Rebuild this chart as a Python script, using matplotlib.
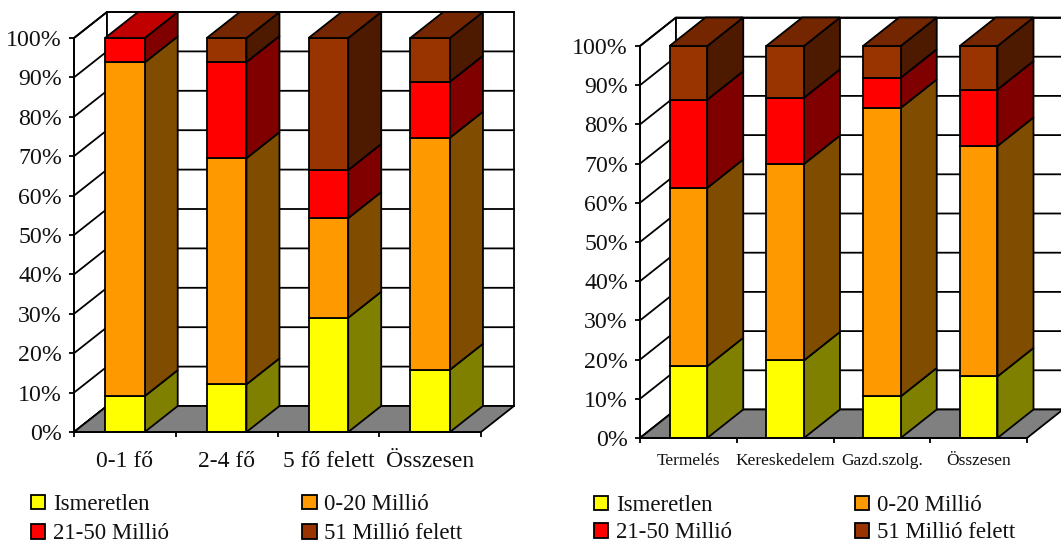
import numpy as np
import matplotlib
matplotlib.use('Agg')
from matplotlib import pyplot as plt
from matplotlib.patches import Polygon, Patch

plt.rcParams['font.family'] = ['Liberation Serif', 'DejaVu Serif']

series_names = ['Ismeretlen', '0-20 Millió', '21-50 Millió', '51 Millió felett']
y_ticks = [0, 10, 20, 30, 40, 50, 60, 70, 80, 90, 100]

size_labels = ['0-1 fő', '2-4 fő', '5 fő felett', 'Összesen']
size_unknown = [9.1, 12.1, 29.0, 15.8]
size_0_20 = [84.7, 57.4, 25.3, 58.9]
size_21_50 = [6.2, 24.4, 12.2, 14.2]
size_51_up = [0.0, 6.1, 33.5, 11.1]

sector_labels = ['Termelés', 'Kereskedelem', 'Gazd.szolg.', 'Összesen']
sector_unknown = [18.3, 19.8, 10.6, 15.7]
sector_0_20 = [45.5, 50.1, 73.6, 58.8]
sector_21_50 = [22.5, 16.9, 7.7, 14.4]
sector_51_up = [13.7, 13.2, 8.1, 11.1]

front = ['#FFFF00', '#FF9900', '#FF0000', '#993300']
side = ['#808000', '#7F4C00', '#800000', '#4D1A00']
top = ['#BFBF00', '#BF7300', '#C00000', '#732600']

W, H = 1061, 544
LW = 1.3


def face(ax, pts, color, z):
    ax.add_patch(Polygon(pts, closed=True, facecolor=color, edgecolor='black',
                         linewidth=LW, joinstyle='miter', zorder=z, clip_on=False))


def chart(box, labels, columns, depth_px, bar_width, label_size, legend_pos, col_space, row_space):
    x0, y0, x1, y1 = box
    ax = fig.add_axes([x0 / W, 1 - y0 / H, (x1 - x0) / W, (y0 - y1) / H])
    ax.set_xlim(0, 4)
    ax.set_ylim(0, 100)
    ax.patch.set_alpha(0)
    # depth of the oblique projection, in data units
    dx = depth_px[0] / ((x1 - x0) / 4)
    dy = depth_px[1] / ((y0 - y1) / 100)

    # walls and floor
    face(ax, [(0, 0), (dx, dy), (dx, 100 + dy), (0, 100)], 'white', 1)
    face(ax, [(dx, dy), (4 + dx, dy), (4 + dx, 100 + dy), (dx, 100 + dy)], 'white', 1)
    for v in y_ticks:
        ax.plot([0, dx, 4 + dx], [v, v + dy, v + dy], color='black', lw=LW, zorder=1.5,
                clip_on=False, solid_joinstyle='miter')
    face(ax, [(0, 0), (4, 0), (4 + dx, dy), (dx, dy)], '#808080', 2)

    # stacked bars, back faces first so the lines stay clean
    tops = np.cumsum(np.array(columns), axis=0)
    for i in range(len(labels)):
        left = i + 0.5 - bar_width / 2
        right = i + 0.5 + bar_width / 2
        low = 0
        last = 0
        for s in range(len(columns)):
            high = tops[s][i]
            if columns[s][i] > 0:
                face(ax, [(right, low), (right + dx, low + dy), (right + dx, high + dy), (right, high)],
                     side[s], 3)
                face(ax, [(left, low), (right, low), (right, high), (left, high)], front[s], 3)
                last = s
            low = high
        face(ax, [(left, low), (right, low), (right + dx, low + dy), (left + dx, low + dy)], top[last], 3)

    for name in ['top', 'right']:
        ax.spines[name].set_visible(False)
    for name in ['left', 'bottom']:
        ax.spines[name].set_linewidth(LW)
        ax.spines[name].set_zorder(4)

    ax.set_yticks(y_ticks)
    ax.set_yticklabels(['%d%%' % v for v in y_ticks], fontsize=17.2, color='#111111')
    ax.tick_params(axis='y', length=3.6, width=LW, pad=5)
    ax.set_xticks([0, 1, 2, 3, 4])
    ax.set_xticklabels([])
    ax.tick_params(axis='x', which='major', length=3.6, width=LW)
    ax.set_xticks([0.5, 1.5, 2.5, 3.5], minor=True)
    ax.set_xticklabels(labels, minor=True, fontsize=label_size, color='#111111')
    ax.tick_params(axis='x', which='minor', length=0, pad=legend_pos[2])

    # legend fills column by column, so swap the middle entries
    order = [0, 2, 1, 3]
    handles = [Patch(facecolor=front[k], edgecolor='black', linewidth=LW) for k in order]
    fig.legend(handles=handles, labels=[series_names[k] for k in order], ncol=2, frameon=False,
               fontsize=16.5, loc='upper left',
               bbox_to_anchor=(legend_pos[0] / W, 1 - legend_pos[1] / H),
               borderaxespad=0, borderpad=0, handlelength=0.62, handleheight=0.62,
               handletextpad=0.33, labelspacing=row_space, columnspacing=col_space,
               labelcolor='#111111')


fig = plt.figure(figsize=(W / 100, H / 100), dpi=100)

chart((74, 432, 481, 38), size_labels,
      [size_unknown, size_0_20, size_21_50, size_51_up],
      (33, 26), 0.39, 17, (31, 494, 14), 5.83, 0.36)
chart((640, 438, 1027, 46), sector_labels,
      [sector_unknown, sector_0_20, sector_21_50, sector_51_up],
      (36, 28.5), 0.39, 12.5, (594, 495, 11), 5.37, 0.28)

fig.savefig('out.png', dpi=100)
